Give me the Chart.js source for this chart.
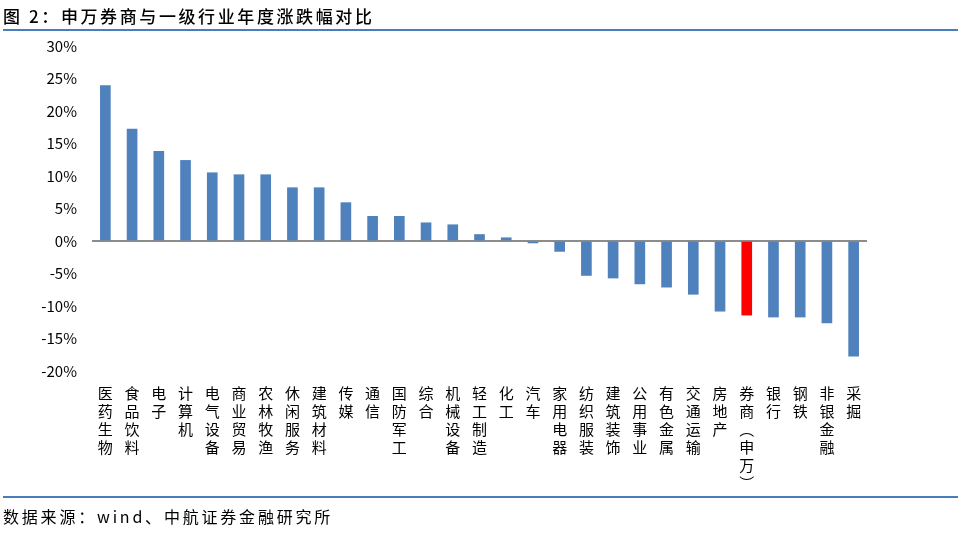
<!DOCTYPE html>
<html>
<head>
<meta charset="utf-8">
<script src="https://cdn.jsdelivr.net/npm/chart.js@4"></script>
<style>
  body { margin: 0; background: #fff; }
  #wrap { position: relative; width: 961px; height: 539px; }
  #myChart { position: absolute; left: 0; top: 0; }
  .title { position: absolute; left: 3px; top: 3px; font: 500 17px "Noto Sans CJK SC"; letter-spacing: 2.6px; color: #000; }
  .rule { position: absolute; left: 3px; width: 955px; height: 2px; background: #4a7ebb; }
  .source { position: absolute; left: 3px; top: 504px; font: 16px "Noto Sans CJK SC"; letter-spacing: 2.8px;
            color: #000; white-space: nowrap; }
</style>
</head>
<body>
<div id="wrap">
  <canvas id="myChart" width="961" height="539"></canvas>
  <div class="title">图 2：申万券商与一级行业年度涨跌幅对比</div>
  <div class="rule" style="top:29px"></div>
  <div class="rule" style="top:496px"></div>
  <div class="source">数据来源：wind、中航证券金融研究所</div>
</div>
<script>
// industry names (drawn vertically, one character per line)
var industries = ['医药生物', '食品饮料', '电子', '计算机', '电气设备', '商业贸易', '农林牧渔',
  '休闲服务', '建筑材料', '传媒', '通信', '国防军工', '综合', '机械设备', '轻工制造', '化工',
  '汽车', '家用电器', '纺织服装', '建筑装饰', '公用事业', '有色金属', '交通运输', '房地产',
  '券商︵申万︶', '银行', '钢铁', '非银金融', '采掘'];
// annual change, %
var changes = [23.9, 17.2, 13.8, 12.4, 10.5, 10.2, 10.2, 8.2, 8.2, 5.9, 3.8, 3.8, 2.8, 2.5, 1.0, 0.5,
  -0.3, -1.6, -5.3, -5.7, -6.6, -7.1, -8.2, -10.8, -11.4, -11.7, -11.7, -12.6, -17.7];
var highlight = '券商︵申万︶';
var yTicks = [-20, -15, -10, -5, 0, 5, 10, 15, 20, 25, 30];

var labels = industries.map(function (s) { return Array.from(s); });
var colors = industries.map(function (s) { return s === highlight ? '#ff0000' : '#4f81bd'; });

var ctx = document.getElementById('myChart').getContext('2d');
var myChart = new Chart(ctx, {
  type: 'bar',
  data: {
    labels: labels,
    datasets: [{
      data: changes,
      backgroundColor: colors,
      barThickness: 10
    }]
  },
  options: {
    responsive: false,
    animation: false,
    layout: { padding: { top: 46, right: 94, bottom: 38, left: 0 } },
    plugins: { legend: { display: false }, tooltip: { enabled: false } },
    scales: {
      x: {
        grid: { display: false },
        border: { display: false },
        ticks: {
          color: '#000',
          padding: 5,
          maxRotation: 0,
          autoSkip: false,
          font: { family: 'Noto Sans CJK SC', size: 15, lineHeight: 1.2 }
        },
        afterFit: function (scale) { scale.height = 130; }
      },
      y: {
        min: -20,
        max: 30,
        afterBuildTicks: function (scale) {
          scale.ticks = yTicks.map(function (v) { return { value: v }; });
        },
        border: { display: false },
        grid: {
          drawTicks: false,
          lineWidth: 2,
          color: function (c) { return c.tick && c.tick.value === 0 ? '#8c8c8c' : 'rgba(0,0,0,0)'; }
        },
        ticks: {
          color: '#000',
          padding: 15,
          font: { family: 'Noto Sans CJK SC', size: 15 },
          callback: function (v) { return v + '%'; }
        },
        afterFit: function (scale) { scale.width = 92; }
      }
    }
  }
});
</script>
</body>
</html>
